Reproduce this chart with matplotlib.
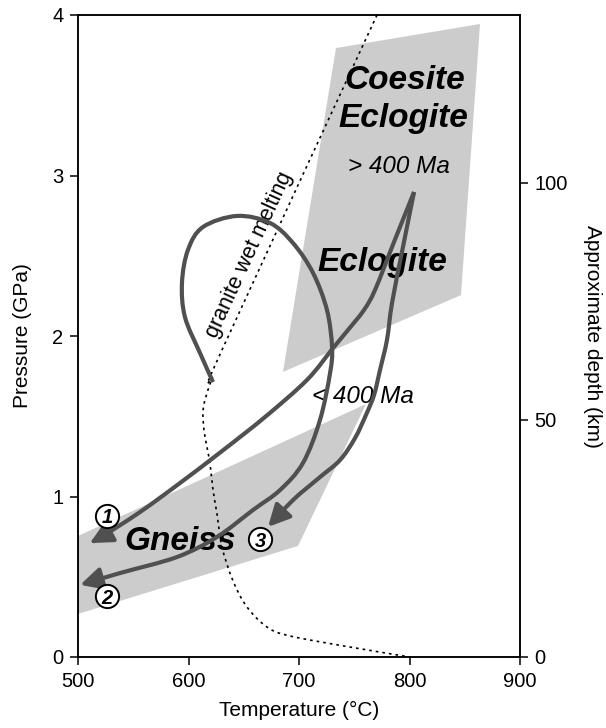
import matplotlib
matplotlib.use('Agg')
import matplotlib.pyplot as plt
from matplotlib.patches import Polygon, FancyArrowPatch, PathPatch
from matplotlib.path import Path
import numpy as np

plt.rcParams['font.family'] = ['Liberation Sans', 'DejaVu Sans']

# ---------------- data (Temperature in °C, Pressure in GPa) ----------------
coesite_T = [733.5, 863.8, 846.6, 685.5]
coesite_P = [3.794, 3.944, 2.255, 1.776]

gneiss_T = [500.0, 760.6, 699.1, 500.0]
gneiss_P = [0.754, 1.576, 0.692, 0.268]

melt_T = [770.6, 630.3, 621.3, 614.9, 613.1, 614.0, 616.7, 619.5, 622.2,
          625.8, 630.3, 640.3, 652.9, 671.0, 691.9, 746.2, 800.5]
melt_P = [4.000, 1.913, 1.738, 1.601, 1.520, 1.414, 1.308, 1.202, 1.040,
          0.891, 0.685, 0.474, 0.312, 0.187, 0.131, 0.062, 0.000]

path1_T = [804.1, 786.0, 768.8, 758.8, 744.3, 730.8, 707.2, 669.2, 630.3,
           592.3, 556.1, 522.6, 510.9]
path1_P = [2.897, 2.586, 2.287, 2.162, 2.037, 1.925, 1.726, 1.495, 1.283,
           1.084, 0.903, 0.754, 0.710]

path2_T = [622.2, 610.4, 596.8, 594.1, 599.5, 613.1, 643.9, 673.8, 694.6,
           712.7, 725.3, 729.9, 728.1, 719.0, 703.6, 682.8, 658.4, 625.8,
           589.6, 538.0, 501.8]
path2_P = [1.713, 1.894, 2.118, 2.330, 2.536, 2.679, 2.748, 2.704, 2.579,
           2.393, 2.162, 1.931, 1.769, 1.477, 1.209, 1.040, 0.916, 0.748,
           0.623, 0.523, 0.449]

path3_T = [804.1, 794.1, 784.2, 779.6, 773.3, 767.9, 760.6, 750.7, 737.1,
           719.0, 694.6, 671.9]
path3_P = [2.897, 2.555, 2.206, 1.975, 1.788, 1.632, 1.508, 1.364, 1.227,
           1.121, 0.978, 0.810]

marker_labels = ['1', '2', '3']
marker_T = [526.2, 526.2, 664.7]
marker_P = [0.879, 0.380, 0.735]

x_ticks = [500, 600, 700, 800, 900]
y_ticks = [0, 1, 2, 3, 4]
depth_ticks = [0, 50, 100]
km_per_gpa = 33.86

# ---------------- helpers ----------------
def smooth_path(T, P):
    """Bezier path passing through every given point (Catmull-Rom)."""
    pts = np.column_stack([T, P]).astype(float)
    n = len(pts)
    verts = [pts[0]]
    codes = [Path.MOVETO]
    for i in range(n - 1):
        p0 = pts[i - 1] if i > 0 else pts[i]
        p1 = pts[i]
        p2 = pts[i + 1]
        p3 = pts[i + 2] if i + 2 < n else pts[i + 1]
        c1 = p1 + (p2 - p0) / 6.0
        c2 = p2 - (p3 - p1) / 6.0
        verts += [c1, c2, p2]
        codes += [Path.CURVE4] * 3
    return Path(np.array(verts), codes)

# ---------------- figure ----------------
fig = plt.figure(figsize=(6.06, 7.28), dpi=100)
ax = fig.add_axes([78/606, 71/728, 442/606, 642/728])
ax.set_xlim(500, 900)
ax.set_ylim(0, 4)

line_col = '#505050'
fill_col = '#cccccc'

ax.add_patch(Polygon(np.column_stack([coesite_T, coesite_P]), closed=True,
                     fc=fill_col, ec='none', zorder=1))
ax.add_patch(Polygon(np.column_stack([gneiss_T, gneiss_P]), closed=True,
                     fc=fill_col, ec='none', zorder=1))

ax.add_patch(PathPatch(smooth_path(melt_T, melt_P), fc='none', ec='black',
                       lw=1.2, ls=(0, (1.6, 2.4)), zorder=2))

# texts
bi = dict(fontsize=24, fontweight='bold', fontstyle='italic', ha='center',
          va='center', zorder=3)
ax.text(795.9, 3.595, 'Coesite', **bi)
ax.text(794.6, 3.358, 'Eclogite', **bi)
ax.text(775.0, 2.455, 'Eclogite', **bi)
ax.text(592.3, 0.717, 'Gneiss', **bi)
it = dict(fontsize=17.5, fontstyle='italic', ha='center', va='center', zorder=3)
ax.text(790.0, 3.053, '> 400 Ma', **it)
ax.text(757.5, 1.626, '< 400 Ma', **it)
ax.text(654.8, 2.505, 'granite wet melting', fontsize=15.5, rotation=65.2,
        rotation_mode='anchor', ha='center', va='center', zorder=3)

# P-T paths
for T, P in [(path1_T, path1_P), (path2_T, path2_P), (path3_T, path3_P)]:
    p = FancyArrowPatch(path=smooth_path(T, P),
                        arrowstyle='-|>,head_length=0.6,head_width=0.3',
                        mutation_scale=22, color=line_col, lw=3.0,
                        joinstyle='round', capstyle='butt', zorder=4)
    ax.add_patch(p)

# circled numbers
ax.scatter(marker_T, marker_P, s=280, marker='o', facecolor='white',
           edgecolor='black', linewidths=1.4, zorder=5)
for lab, t, p in zip(marker_labels, marker_T, marker_P):
    ax.text(t, p, lab, fontsize=14.5, fontweight='bold', fontstyle='italic',
            ha='center', va='center_baseline', zorder=6)

# axes styling
ax.set_xticks(x_ticks)
ax.set_yticks(y_ticks)
for s in ax.spines.values():
    s.set_linewidth(1.1)
ax.tick_params(axis='both', direction='out', length=5.5, width=1.1,
               labelsize=14.5, pad=5, top=False, right=False)
ax.set_xlabel('Temperature (°C)', fontsize=15)
ax.set_ylabel('Pressure (GPa)', fontsize=15)
ax.xaxis.set_label_coords(0.5, -0.068)
ax.yaxis.set_label_coords(-0.104, 0.5)

ax2 = ax.twinx()
ax2.set_ylim(0, 4 * km_per_gpa)
ax2.set_yticks(depth_ticks)
ax2.tick_params(axis='y', direction='out', length=5.5, width=1.1,
                labelsize=14.5, pad=5)
for s in ax2.spines.values():
    s.set_linewidth(1.1)
ax2.set_ylabel('Approximate depth (km)', fontsize=15, rotation=270,
               va='bottom')
ax2.yaxis.set_label_coords(1.142, 0.5)

fig.savefig('out.png', dpi=100)
